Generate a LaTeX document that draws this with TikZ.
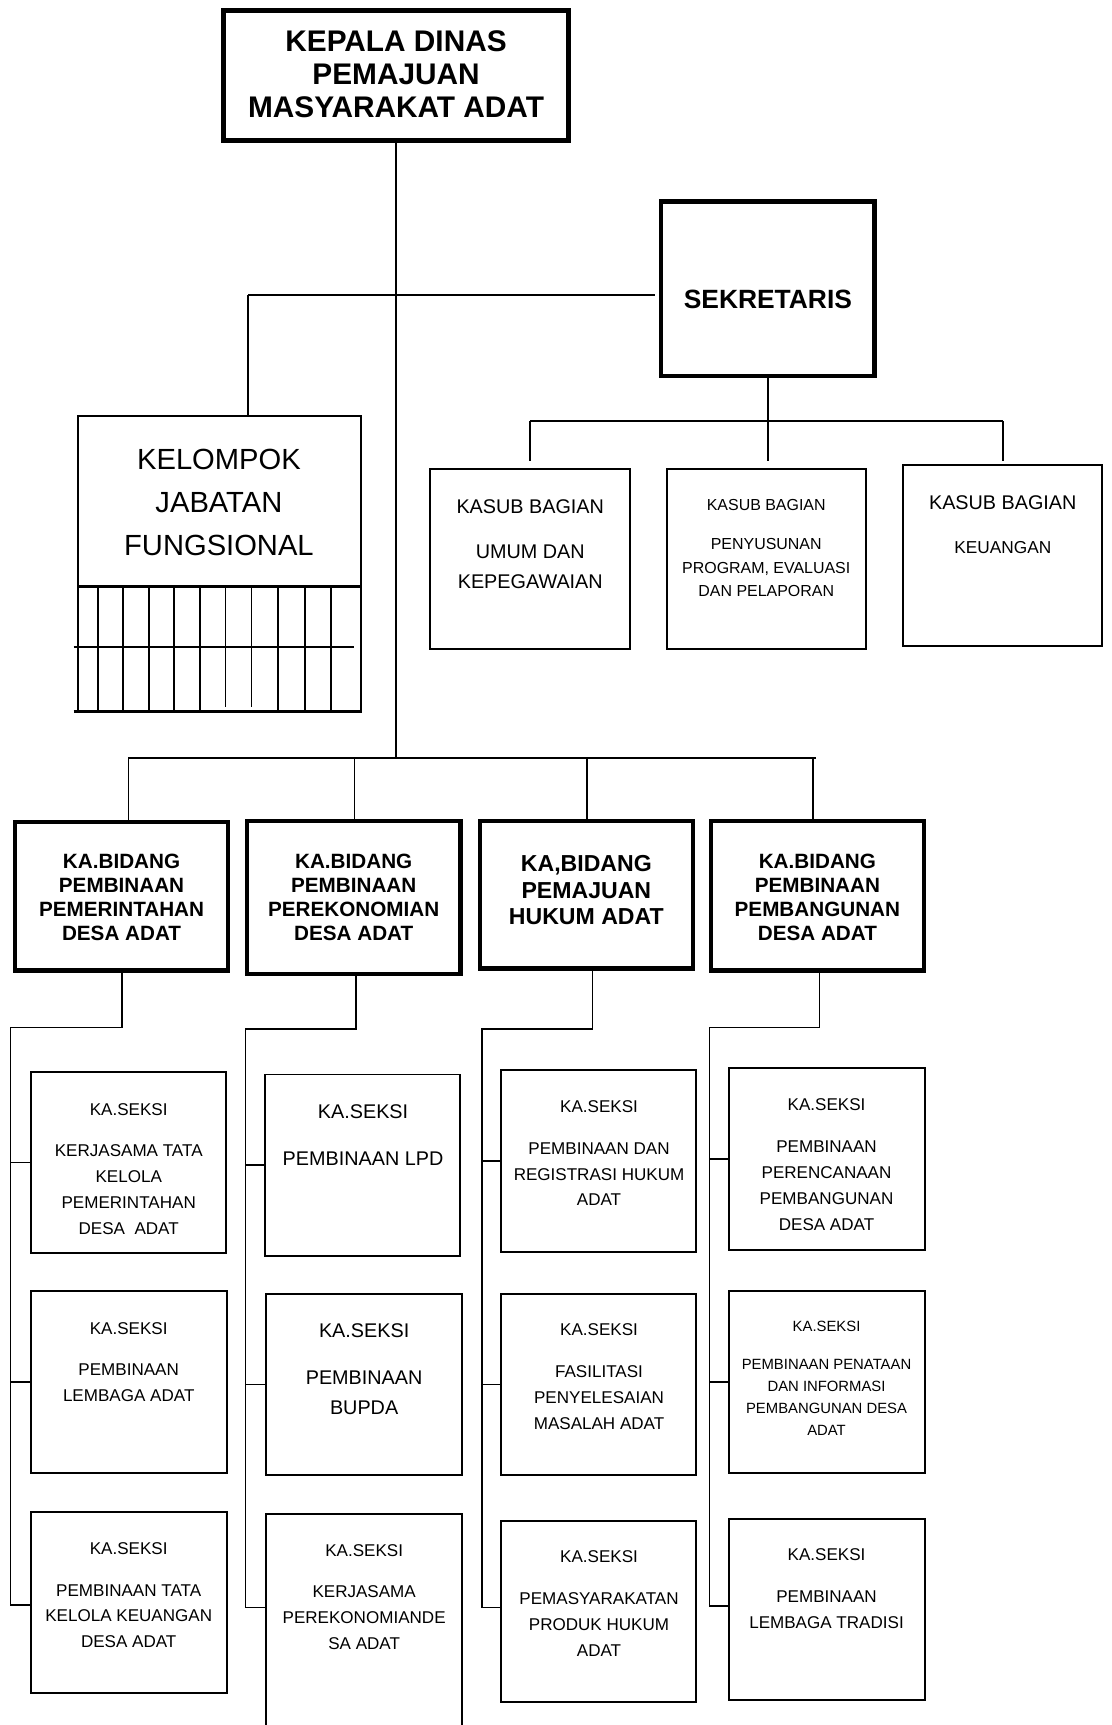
\documentclass[tikz,border=0pt]{standalone}
\usepackage{fontspec}
\setmainfont{Liberation Sans}
\usetikzlibrary{fit}
\newcommand\myfs[2]{\fontsize{#1pt}{#2pt}\selectfont}
\tikzset{
  thickbox/.style={draw, line width=2pt, inner sep=0pt, outer sep=0pt},
  thinbox/.style={draw, line width=0.9pt, inner sep=0pt, outer sep=0pt},
  conn/.style={line width=0.7pt},
  bus/.style={line width=1pt},
  txt/.style={anchor=north, align=center, inner sep=0pt, outer sep=0pt},
  seks/.style={txt, font=\myfs{7.75}{11.75}},
  bid/.style={txt, font=\myfs{9.4}{10.95}\bfseries},
}
\begin{document}
\begin{tikzpicture}[x=0.5pt, y=-0.5pt]
\useasboundingbox (0,0) rectangle (1010,1568);
\clip (0,0) rectangle (1010,1568);

% ---------- top level boxes ----------
\node[thickbox, line width=2.25pt, fit={(203.3,9.9) (516.7,128)}] (kepala) {};
\node[txt, font=\myfs{13.55}{15.15}\bfseries] (kepala-t) at (360,27.6) {KEPALA DINAS\\PEMAJUAN\\MASYARAKAT ADAT};

\node[thickbox, fit={(601,183) (795,342)}] (sek) {};
\node[txt, font=\myfs{12}{14}\bfseries] (sek-t) at (698,263.6) {SEKRETARIS};

\node[thinbox, fit={(70.5,378) (327.7,533)}] (kjf) {};
\node[txt, font=\myfs{13.25}{19.5}] (kjf-t) at (199,408.5) {KELOMPOK\\JABATAN\\FUNGSIONAL};
% grid under kelompok jabatan fungsional
\draw[line width=1.5pt] (kjf.south west) -- (kjf.south east);
\draw[line width=0.9pt] (kjf.south west) -- ++(0,114);
\draw[line width=0.9pt] (kjf.south east) -- ++(0,114);
\foreach \gx in {88.9,112.1,135.3,158.5,181.7,252.6,277,300.9}
  \draw[line width=0.8pt] (\gx,533) -- (\gx,647);
\foreach \gx in {204.9,228.7}
  \draw[line width=0.8pt] (\gx,533) -- (\gx,643);
\draw[line width=1pt] (67,588) -- (322,588);
\draw[line width=1.2pt] (67,647) -- (328.6,647);

% ---------- kasub bagian ----------
\node[thinbox, fit={(390.7,426) (572.6,590)}] (kb1) {};
\node[txt, font=\myfs{9}{13.6}] (kb1-t) at (482,454) {KASUB BAGIAN\\[7.15pt]UMUM DAN\\KEPEGAWAIAN};
\node[thinbox, fit={(606.6,426) (787.1,590)}] (kb2) {};
\node[txt, font=\myfs{7.25}{10.75}] (kb2-t) at (696.5,454) {KASUB BAGIAN\\[6.95pt]PENYUSUNAN\\PROGRAM, EVALUASI\\DAN PELAPORAN};
\node[thinbox, fit={(820.9,423) (1002,587)}] (kb3) {};
\node[txt, font=\myfs{9}{13.6}] (kb3-t1) at (911.5,450.9) {KASUB BAGIAN};
\node[txt, font=\myfs{7.85}{11.75}] (kb3-t2) at (911.5,492.4) {KEUANGAN};

% ---------- bidang ----------
\node[thickbox, fit={(13.6,747) (207.4,882.3)}] (b1) {};
\node[bid] (b1-t) at (110.5,776.4) {KA.BIDANG\\PEMBINAAN\\PEMERINTAHAN\\DESA ADAT};
\node[thickbox, fit={(224.3,746.5) (418.7,885.3)}] (b2) {};
\node[bid] (b2-t) at (321.5,776.4) {KA.BIDANG\\PEMBINAAN\\PEREKONOMIAN\\DESA ADAT};
\node[thickbox, fit={(436.3,746.5) (630,880.4)}] (b3) {};
\node[txt, font=\myfs{10.5}{12.15}\bfseries] (b3-t) at (533,777.3) {KA,BIDANG\\PEMAJUAN\\HUKUM ADAT};
\node[thickbox, fit={(646.3,746.5) (840,882.2)}] (b4) {};
\node[bid] (b4-t) at (743,776.4) {KA.BIDANG\\PEMBINAAN\\PEMBANGUNAN\\DESA ADAT};

% ---------- seksi column 1 ----------
\node[thinbox, fit={(27.9,974.5) (205.1,1139.1)}] (s1a) {};
\node[seks] (s1a-t) at (117,1003) {KA.SEKSI\\[7pt]KERJASAMA TATA\\KELOLA\\PEMERINTAHAN\\DESA\ \ ADAT};
\node[thinbox, fit={(27.9,1173.6) (206.6,1338.5)}] (s1b) {};
\node[seks] (s1b-t) at (117,1202.4) {KA.SEKSI\\[7pt]PEMBINAAN\\LEMBAGA ADAT};
\node[thinbox, fit={(27.9,1374.2) (206.6,1538.5)}] (s1c) {};
\node[seks] (s1c-t) at (117,1402.4) {KA.SEKSI\\[7pt]PEMBINAAN TATA\\KELOLA KEUANGAN\\DESA ADAT};

% ---------- seksi column 2 ----------
\node[thinbox, fit={(240.6,976.7) (417.9,1141.5)}] (s2a) {};
\node[txt, font=\myfs{9}{13.5}] (s2a-t) at (330,1004.5) {KA.SEKSI\\[7.75pt]PEMBINAAN LPD};
\node[thinbox, fit={(241.9,1176.1) (419.8,1340.6)}] (s2b) {};
\node[txt, font=\myfs{9}{13.65}] (s2b-t) at (331,1203.6) {KA.SEKSI\\[7.3pt]PEMBINAAN\\BUPDA};
\node[thinbox, fit={(241.9,1375.9) (419.8,1600)}] (s2c) {};
\node[seks] (s2c-t) at (331,1403.6) {KA.SEKSI\\[7pt]KERJASAMA\\PEREKONOMIANDE\\SA ADAT};

% ---------- seksi column 3 ----------
\node[thinbox, fit={(455.2,972.9) (632.5,1137.6)}] (s3a) {};
\node[seks] (s3a-t) at (544.5,1000) {KA.SEKSI\\[7.4pt]PEMBINAAN DAN\\REGISTRASI HUKUM\\ADAT};
\node[thinbox, fit={(455.2,1176.1) (632.5,1340.6)}] (s3b) {};
\node[seks] (s3b-t) at (544.5,1203) {KA.SEKSI\\[7.5pt]FASILITASI\\PENYELESAIAN\\MASALAH ADAT};
\node[thinbox, fit={(455.2,1382.7) (632.5,1546.7)}] (s3c) {};
\node[seks] (s3c-t) at (544.5,1409.7) {KA.SEKSI\\[7.4pt]PEMASYARAKATAN\\PRODUK HUKUM\\ADAT};

% ---------- seksi column 4 ----------
\node[thinbox, fit={(662.6,971.2) (840.6,1136.1)}] (s4a) {};
\node[seks] (s4a-t) at (751.3,998.5) {KA.SEKSI\\[7.5pt]PEMBINAAN\\PERENCANAAN\\PEMBANGUNAN\\DESA ADAT};
\node[thinbox, fit={(662.6,1173.6) (840.6,1338.5)}] (s4b) {};
\node[txt, font=\myfs{6.75}{9.95}] (s4b-t) at (751.3,1200.6) {KA.SEKSI\\[7.65pt]PEMBINAAN PENATAAN\\DAN INFORMASI\\PEMBANGUNAN DESA\\ADAT};
\node[thinbox, fit={(662.6,1380.6) (840.6,1545.1)}] (s4c) {};
\node[seks] (s4c-t) at (751.3,1407.6) {KA.SEKSI\\[7.2pt]PEMBINAAN\\LEMBAGA TRADISI};

% ---------- connectors: top ----------
\coordinate (busL) at (116.6,689);
\coordinate (busR) at (742,689);
\coordinate (bx2) at (322.2,689);
\coordinate (bx3) at (533.5,689);
\coordinate (bx4) at (739,689);
\draw[conn] (kepala.south) -- (kepala.south |- busL);
\draw[bus] (busL) -- (busR);
\draw[conn] (busL) -- (busL |- b1.north);
\draw[conn] (bx2) -- (bx2 |- b2.north);
\draw[conn] (bx3) -- (bx3 |- b3.north);
\draw[conn] (bx4) -- (bx4 |- b4.north);

\coordinate (kj) at (225.5,268);
\draw[conn] (kjf.north -| kj) -- (kj);
\draw[bus, shorten >=3pt] (kj) -- (kj -| sek.west);

\coordinate (kbL) at (482,382.7);
\coordinate (kbR) at (911.7,382.7);
\coordinate (kbE) at (0,419);
\draw[conn] (sek.south) -- (sek.south |- kbE);
\draw[bus] (kbL) -- (kbR);
\draw[conn] (kbL) -- (kbL |- kbE);
\draw[conn] (kbR) -- (kbR |- kbE);

% ---------- connectors: columns ----------
\coordinate (v1) at (110.8,934);   \coordinate (h1) at (9.7,934);  \coordinate (e1) at (9.7,1459);
\coordinate (v2) at (323.5,935.5); \coordinate (h2) at (223,935.5); \coordinate (e2) at (223,1461);
\coordinate (v3) at (538.7,935.5); \coordinate (h3) at (438,935.5); \coordinate (e3) at (438,1461);
\coordinate (v4) at (744.8,934);   \coordinate (h4) at (645,934);  \coordinate (e4) at (645,1460);

\draw[conn] (b1.south -| v1) -- (v1) -- (h1) -- (e1) -- (e1 -| s1c.west);
\draw[conn] (h1 |- s1a.west) -- (s1a.west);
\draw[conn] (h1 |- s1b.west) -- (s1b.west);

\draw[conn] (b2.south -| v2) -- (v2) -- (h2) -- (e2) -- (e2 -| s2c.west);
\draw[conn] (h2 |- s2a.west) -- (s2a.west);
\draw[conn] (h2 |- s2b.west) -- (s2b.west);

\draw[conn] (b3.south -| v3) -- (v3) -- (h3) -- (e3) -- (e3 -| s3c.west);
\draw[conn] (h3 |- s3a.west) -- (s3a.west);
\draw[conn] (h3 |- s3b.west) -- (s3b.west);

\draw[conn] (b4.south -| v4) -- (v4) -- (h4) -- (e4) -- (e4 -| s4c.west);
\draw[conn] (h4 |- s4a.west) -- (s4a.west);
\draw[conn] (h4 |- s4b.west) -- (s4b.west);
\end{tikzpicture}
\end{document}
